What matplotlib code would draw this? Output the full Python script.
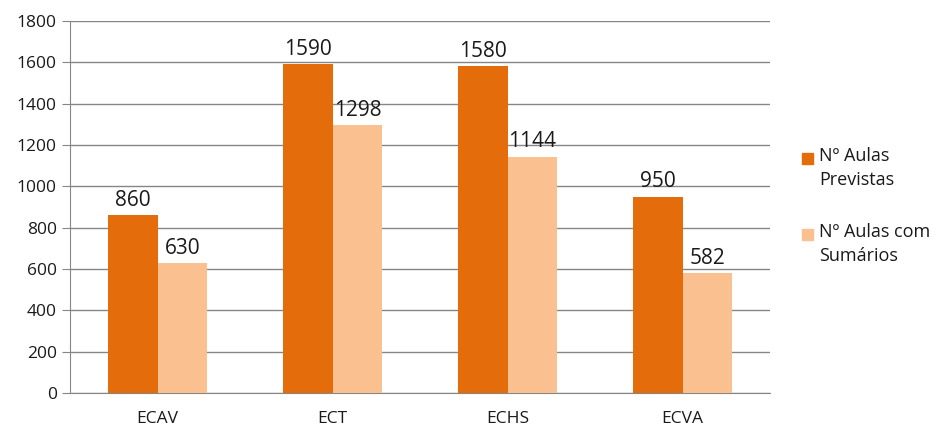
import matplotlib.pyplot as plt
from matplotlib.patches import Rectangle
import numpy as np

plt.rcParams['font.family'] = ['Open Sans', 'DejaVu Sans']

# dados
escolas = ['ECAV', 'ECT', 'ECHS', 'ECVA']
previstas = [860, 1590, 1580, 950]
sumarios = [630, 1298, 1144, 582]
legendas = ['Nº Aulas\nPrevistas', 'Nº Aulas com\nSumários']

cor1 = '#E46C0A'
cor2 = '#FAC090'
cinza = '#868686'
texto = '#1a1a1a'

fig = plt.figure(figsize=(9.38, 4.29), dpi=100)
ax = fig.add_axes([70/938, 1 - 393/429, 700/938, 372/429])

x = np.arange(len(escolas))
w = 0.285
b1 = ax.bar(x - w/2, previstas, w, color=cor1, zorder=3)
b2 = ax.bar(x + w/2, sumarios, w, color=cor2, zorder=3)

ax.bar_label(b1, padding=3, fontsize=15, color=texto)
ax.bar_label(b2, padding=3, fontsize=15, color=texto)

ax.set_xlim(-0.5, len(escolas) - 0.5)
ax.set_ylim(0, 1800)
ax.set_yticks(range(0, 1801, 200))
ax.set_xticks(x)
ax.set_xticklabels(escolas)
ax.grid(axis='y', color=cinza, linewidth=1, zorder=0)
for s in ['top', 'right']:
    ax.spines[s].set_visible(False)
for s in ['left', 'bottom']:
    ax.spines[s].set_color(cinza)
ax.tick_params(axis='y', length=6, color=cinza, labelsize=12.5, labelcolor=texto)
ax.tick_params(axis='x', length=0, labelsize=12.5, pad=13, labelcolor=texto)

# legenda (quadrado alinhado com a primeira linha)
for i, (nome, cor) in enumerate(zip(legendas, [cor1, cor2])):
    y0 = 1 - (158 + 76 * i) / 429
    fig.patches.append(Rectangle((802/938, y0 - 6/429), 11/938, 11/429,
                                 color=cor, transform=fig.transFigure))
    fig.text(819/938, y0 + 11/429, nome, fontsize=13, color=texto,
             va='top', ha='left', linespacing=1.4)

plt.savefig('out.png', dpi=100)
